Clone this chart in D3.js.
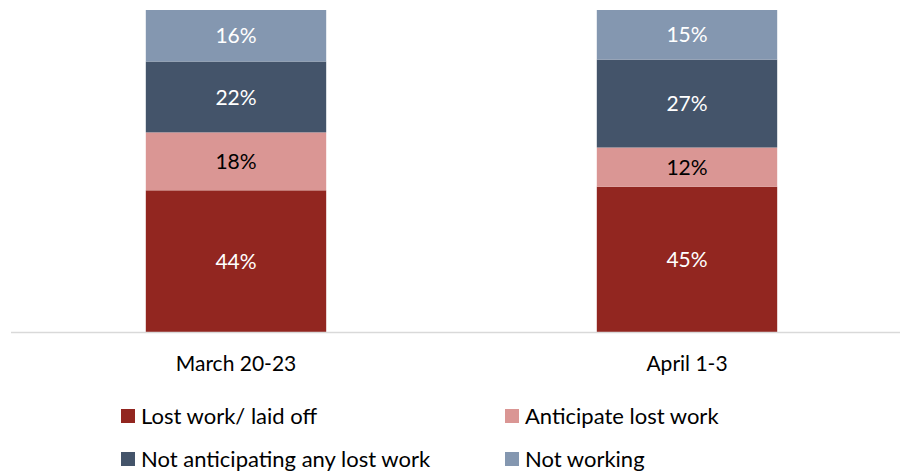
<!DOCTYPE html>
<html>
<head>
<meta charset="utf-8">
<script src="https://cdn.jsdelivr.net/npm/d3@7"></script>
<style>
  body { margin: 0; background: #fff; }
  #graf { width: 900px; height: 472px; }
  text { font-family: Lato, "Open Sans", sans-serif; }
</style>
</head>
<body>
<div id="graf"></div>
<script>
// I. Datos
periodos = ['March 20-23', 'April 1-3']
series = ['Lost work/ laid off', 'Anticipate lost work', 'Not anticipating any lost work', 'Not working']
perdio = [44, 45.1]
anticipa = [18, 12.2]
noAnticipa = [22, 27.3]
noTrabaja = [16, 15.4]
colores = ['#922620', '#da9694', '#44546a', '#8497b0']
colorTexto = ['#fff', '#000', '#fff', '#fff']

// II. Configuración
ancho_total = 900
alto_total = 472

svg = d3.select('#graf').append('svg')
        .attr('width', ancho_total)
        .attr('height', alto_total)

x = d3.scaleBand()
      .domain(periodos)
      .range([10.5, 912.5])
      .paddingInner(0.6)
      .paddingOuter(0.3)

y = d3.scaleLinear()
      .domain([0, 100])
      .range([332, 10])

color = d3.scaleOrdinal()
          .domain(series)
          .range(colores)

tabla = periodos.map((p, i) => ({
  periodo: p,
  [series[0]]: perdio[i],
  [series[1]]: anticipa[i],
  [series[2]]: noAnticipa[i],
  [series[3]]: noTrabaja[i]
}))

stack = d3.stack().keys(series)(tabla)

// III. Barras
capas = svg.selectAll('g.capa')
           .data(stack)
           .enter()
           .append('g')
           .attr('class', 'capa')
           .attr('fill', d => color(d.key))

capas.selectAll('rect')
     .data(d => d)
     .enter()
     .append('rect')
       .attr('x', d => x(d.data.periodo))
       .attr('width', x.bandwidth())
       .attr('y', d => y(d[1]))
       .attr('height', d => y(d[0]) - y(d[1]))

fmt = d3.format('.0f')
stack.forEach((capa, j) => {
  svg.selectAll(null)
     .data(capa)
     .enter()
     .append('text')
       .attr('x', d => x(d.data.periodo) + x.bandwidth() / 2)
       .attr('y', d => (y(d[0]) + y(d[1])) / 2)
       .attr('dy', '0.36em')
       .attr('text-anchor', 'middle')
       .style('font-size', '21px')
       .style('fill', colorTexto[j])
       .text(d => fmt(d[1] - d[0]) + '%')
})

// IV. Eje
xAxisGroup = svg.append('g')
                .attr('transform', `translate(0, ${ y(0) })`)
xAxisGroup.call(d3.axisBottom(x).tickSize(0).tickPadding(24))
xAxisGroup.select('.domain')
          .attr('stroke', '#d9d9d9')
          .attr('stroke-width', 1.5)
xAxisGroup.selectAll('text')
          .style('font-family', 'Lato, "Open Sans", sans-serif')
          .style('font-size', '21px')
          .style('fill', '#000')

// V. Leyenda
posLeyenda = [[121, 416], [505, 416], [121, 459], [505, 459]]
leyenda = svg.selectAll('g.leyenda')
             .data(series)
             .enter()
             .append('g')
             .attr('class', 'leyenda')
             .attr('transform', (d, i) => `translate(${ posLeyenda[i][0] }, ${ posLeyenda[i][1] })`)

leyenda.append('rect')
       .attr('x', 0)
       .attr('y', -7)
       .attr('width', 14)
       .attr('height', 14)
       .attr('fill', d => color(d))

leyenda.append('text')
       .attr('x', 20)
       .attr('dy', '0.36em')
       .style('font-size', '22px')
       .style('fill', '#000')
       .text(d => d)
</script>
</body>
</html>
